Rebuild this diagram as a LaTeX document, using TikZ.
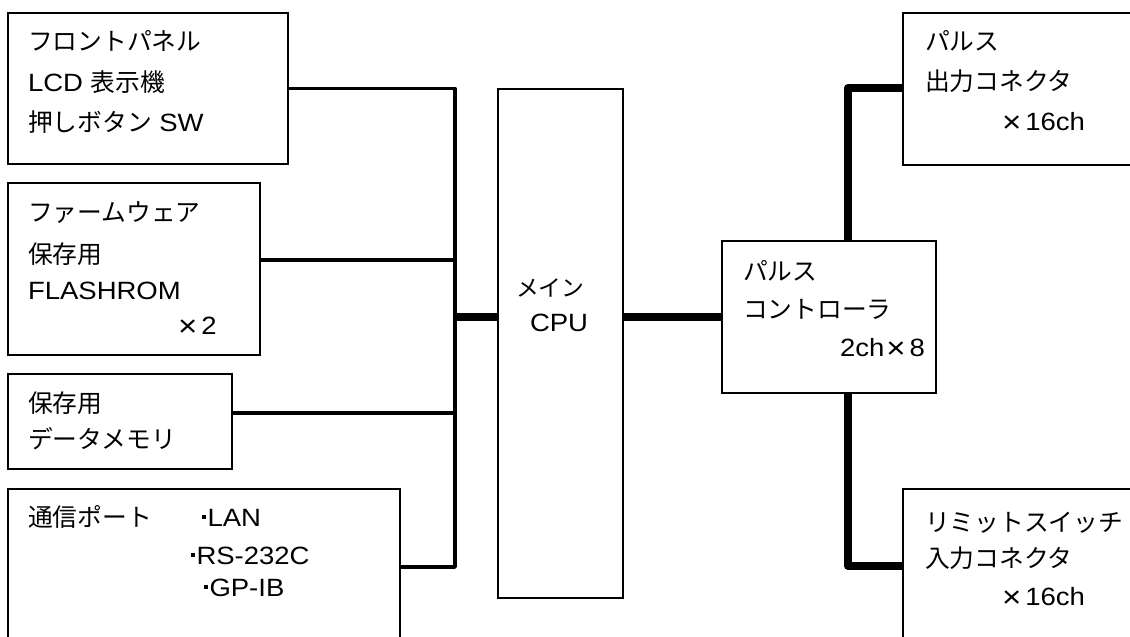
\documentclass[tikz,border=0pt]{standalone}
\usepackage{fontspec}
\setmainfont{Liberation Sans}[FakeStretch=1.1]
\newfontfamily\jpfont{Noto Sans CJK JP}[Scale=0.99]
\newcommand\J[1]{{\jpfont #1}}
\newcommand\mdot{\hspace{2pt}\raisebox{7.5pt}{\rule{3.5pt}{3.5pt}}\hspace{2pt}}
\newcommand\tms{\raisebox{-2.5pt}{\fontsize{30}{30}\selectfont ×}}
\begin{document}
\begin{tikzpicture}[x=1pt,y=-1pt,
  box/.style={draw, line width=1.5pt, inner sep=0pt, outer sep=0pt},
  txt/.style={anchor=base west, inner sep=0pt, outer sep=0pt, font=\fontsize{25}{30}\selectfont},
  thinbus/.style={line width=3.5pt, line join=round},
  thickbus/.style={line width=8pt, line join=round}]
\useasboundingbox (0,0) rectangle (1130,637);
\clip (0,0) rectangle (1130,637);
\fill[white] (0,0) rectangle (1130,637);

% boxes
\node[box, minimum width=280pt, minimum height=151pt] (b1) at (148,88.5) {};
\node[box, minimum width=252pt, minimum height=172pt] (b2) at (134,269) {};
\node[box, minimum width=224pt, minimum height=95pt] (b3) at (120,421.5) {};
\node[box, minimum width=392pt, minimum height=181pt] (b4) at (204,579.5) {};
\node[box, minimum width=125pt, minimum height=509pt] (cpu) at (560.5,343.5) {};
\node[box, minimum width=214pt, minimum height=152pt] (pc) at (829,317) {};
\node[box, minimum width=247pt, minimum height=152pt] (po) at (1026.5,89) {};
\node[box, minimum width=247pt, minimum height=181pt] (li) at (1026.5,579.5) {};

% texts
\node[txt] (t1a) at (28,50) {\J{フロントパネル}};
\node[txt] (t1b) at (28,91) {LCD \J{表示機}};
\node[txt] (t1c) at (28,131) {\J{押しボタン} SW};

\node[txt] (t2a) at (28,221) {\J{ファームウェア}};
\node[txt] (t2b) at (28,263) {\J{保存用}};
\node[txt] (t2c) at (28,299) {FLASHROM};
\node[txt] (t2d) at (178,334) {\tms\hspace{4pt}2};

\node[txt] (t3a) at (28,412) {\J{保存用}};
\node[txt] (t3b) at (28,448) {\J{データメモリ}};

\node[txt] (t4a) at (28,526) {\J{通信ポート}};
\node[txt] (t4b) at (200,526) {\mdot LAN};
\node[txt] (t4c) at (189,564) {\mdot RS-232C};
\node[txt] (t4d) at (202,596) {\mdot GP-IB};

\node[txt, font=\fontsize{23}{27}\selectfont] (tc1) at (516,296) {\J{メイン}};
\node[txt] (tc2) at (530,331) {CPU};

\node[txt] (tp1) at (743,280) {\J{パルス}};
\node[txt] (tp2) at (743,318) {\J{コントローラ}};
\node[txt] (tp3) at (840,356) {2ch\hspace{2pt}\tms\hspace{4pt}8};

\node[txt] (to1) at (925,50) {\J{パルス}};
\node[txt] (to2) at (925,90) {\J{出力コネクタ}};
\node[txt] (to3) at (1002,130) {\tms\hspace{4pt}16ch};

\node[txt] (tl1) at (925,531) {\J{リミットスイッチ}};
\node[txt] (tl2) at (925,567) {\J{入力コネクタ}};
\node[txt] (tl3) at (1002,605) {\tms\hspace{4pt}16ch};

% junctions
\coordinate (j1) at (455,88.5);
\coordinate (j2) at (455,260);
\coordinate (j3) at (455,413);
\coordinate (j4) at (455,567);
\coordinate (jc) at (455,317);
\coordinate (k1) at (848,88);
\coordinate (k2) at (848,566);

% connectors
\draw[thinbus] (b1.east) -- (j1) -- (j4) -- (b4.east |- j4);
\draw[thinbus] (b2.east |- j2) -- (j2);
\draw[thinbus] (b3.east |- j3) -- (j3);
\draw[thickbus] (jc) -- (cpu.west |- jc);
\draw[thickbus] (cpu.east |- pc.west) -- (pc.west);
\draw[thickbus] (pc.north -| k1) -- (k1) -- (po.west |- k1);
\draw[thickbus] (pc.south -| k2) -- (k2) -- (li.west |- k2);
\end{tikzpicture}
\end{document}
